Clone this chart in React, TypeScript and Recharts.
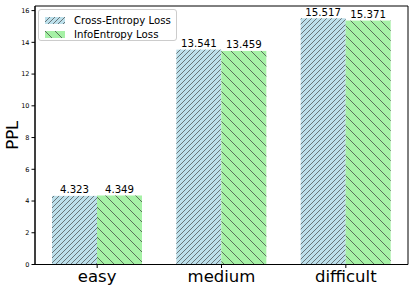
import React from 'react';
import { BarChart, Bar, XAxis, YAxis, LabelList, Legend, ReferenceArea } from 'recharts';

const categories = ['easy', 'medium', 'difficult'];
const crossEntropy = [4.323, 13.541, 15.517];
const infoEntropy = [4.349, 13.459, 15.371];
const yTicks = [0, 2, 4, 6, 8, 10, 12, 14, 16];
const yMax = 16.29;
const seriesNames = ['Cross-Entropy Loss', 'InfoEntropy Loss'];

const data = categories.map((c, i) => ({ cat: c, ce: crossEntropy[i], ie: infoEntropy[i] }));

const FONT = 'DejaVu Sans, Verdana, sans-serif';
const BLUE = '#bde0eb';
const GREEN = '#a6f1a6';
const HATCH = '#3a3a3a';

const PatternDefs = ({ prefix }: { prefix: string }) => (
  <defs>
    <pattern id={`${prefix}-fwd`} patternUnits="userSpaceOnUse" width={5} height={5}>
      <path d="M0,5 L5,0 M-1,1 L1,-1 M4,6 L6,4" stroke={HATCH} strokeWidth={0.65} />
    </pattern>
    <pattern id={`${prefix}-back`} patternUnits="userSpaceOnUse" width={10} height={10}>
      <path d="M0,0 L10,10 M-1,9 L1,11 M9,-1 L11,1" stroke={HATCH} strokeWidth={0.7} />
    </pattern>
  </defs>
);

const makeShape = (color: string, pat: string) => (props: any) => {
  const { x, y, width, height } = props;
  if (!(height > 0)) return <g />;
  return (
    <g>
      <rect x={x} y={y} width={width} height={height} fill={color} />
      <rect x={x} y={y} width={width} height={height} fill={`url(#${pat})`} />
    </g>
  );
};

const LegendContent = () => {
  const items = [
    { name: seriesNames[0], color: BLUE, pat: 'lg-fwd' },
    { name: seriesNames[1], color: GREEN, pat: 'lg-back' },
  ];
  return (
    <div
      style={{
        width: 139,
        height: 32.5,
        boxSizing: 'border-box',
        border: '1px solid #cccccc',
        borderRadius: 3,
        background: 'rgba(255,255,255,0.8)',
        paddingTop: 3.5,
        paddingLeft: 6,
        fontFamily: FONT,
        fontSize: 10.2,
        color: '#000',
      }}
    >
      <svg width={0} height={0} style={{ position: 'absolute' }}>
        <PatternDefs prefix="lg" />
      </svg>
      {items.map((it) => (
        <div key={it.name} style={{ display: 'flex', alignItems: 'center', height: 14, whiteSpace: 'nowrap' }}>
          <svg width={20} height={7} style={{ marginRight: 9, flex: 'none' }}>
            <rect x={0} y={0} width={20} height={7} fill={it.color} />
            <rect x={0} y={0} width={20} height={7} fill={`url(#${it.pat})`} />
          </svg>
          <span>{it.name}</span>
        </div>
      ))}
    </div>
  );
};

const YLabel = (props: any) => {
  const vb = props.viewBox || {};
  const cx = (vb.x ?? 0) + 12;
  const cy = (vb.y ?? 0) + (vb.height ?? 0) / 2;
  return (
    <text
      x={cx}
      y={cy}
      transform={`rotate(-90, ${cx}, ${cy})`}
      textAnchor="middle"
      dominantBaseline="central"
      fontSize={16.5}
      fontFamily={FONT}
      fill="#000"
    >
      PPL
    </text>
  );
};

export default function App() {
  return (
    <div style={{ position: 'absolute', left: 0, top: 0, width: 415, height: 291, background: '#fff' }}>
      <BarChart
        width={415}
        height={291}
        data={data}
        margin={{ top: 6, right: 7, bottom: 0, left: 0 }}
        barGap={0}
        barSize={45}
      >
        <PatternDefs prefix="bar" />
        <XAxis
          dataKey="cat"
          height={26.5}
          tickSize={3.5}
          tickMargin={2.5}
          axisLine={{ stroke: '#000', strokeWidth: 1 }}
          tickLine={{ stroke: '#000', strokeWidth: 1 }}
          tick={{ fontSize: 16.5, fontFamily: FONT, fill: '#000' }}
        />
        <YAxis
          width={35}
          domain={[0, yMax]}
          ticks={yTicks}
          interval={0}
          tickSize={3.5}
          tickMargin={2}
          axisLine={{ stroke: '#000', strokeWidth: 1 }}
          tickLine={{ stroke: '#000', strokeWidth: 1 }}
          tick={{ fontSize: 6.5, fontFamily: FONT, fill: '#000' }}
          label={<YLabel />}
        />
        <ReferenceArea y1={0} y2={yMax} fill="none" fillOpacity={0} stroke="#000" strokeWidth={1} ifOverflow="visible" />
        <Legend
          layout="vertical"
          align="center"
          verticalAlign="middle"
          content={<LegendContent />}
          wrapperStyle={{ left: 38, top: 8.5, width: 139, height: 33 }}
        />
        <Bar
          dataKey="ce"
          name={seriesNames[0]}
          fill={BLUE}
          isAnimationActive={false}
          shape={makeShape(BLUE, 'bar-fwd')}
        >
          <LabelList dataKey="ce" position="top" offset={2.5} fontSize={10.2} fontFamily={FONT} fill="#000" formatter={(v: any) => Number(v).toFixed(3)} />
        </Bar>
        <Bar
          dataKey="ie"
          name={seriesNames[1]}
          fill={GREEN}
          isAnimationActive={false}
          shape={makeShape(GREEN, 'bar-back')}
        >
          <LabelList dataKey="ie" position="top" offset={2.5} fontSize={10.2} fontFamily={FONT} fill="#000" formatter={(v: any) => Number(v).toFixed(3)} />
        </Bar>
      </BarChart>
    </div>
  );
}
